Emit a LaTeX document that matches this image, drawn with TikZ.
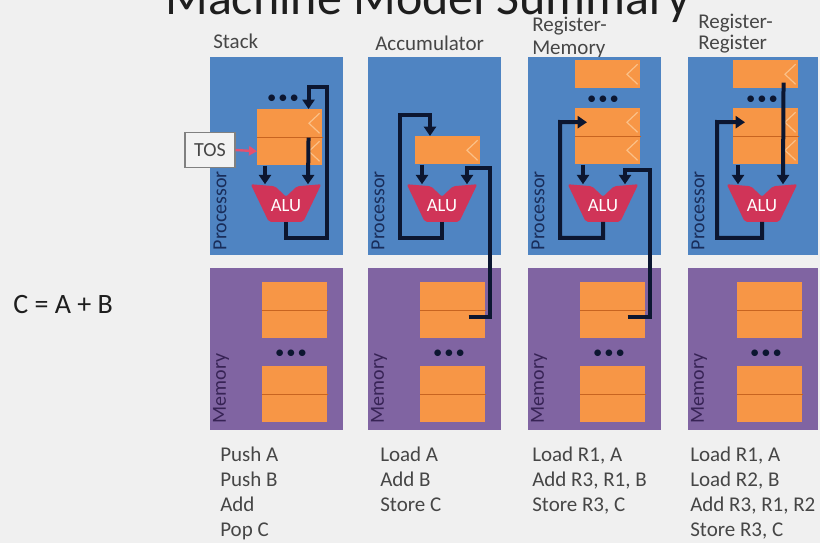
\documentclass[tikz,border=0pt]{standalone}
\usepackage{fontspec}
\setmainfont{Carlito}
\usetikzlibrary{calc,arrows.meta}

\definecolor{bgcol}{RGB}{240,240,240}
\definecolor{procblue}{RGB}{79,132,194}
\definecolor{mempurple}{RGB}{128,100,162}
\definecolor{regorange}{RGB}{247,150,70}
\definecolor{regline}{RGB}{200,100,32}
\definecolor{chevcol}{RGB}{251,192,135}
\definecolor{alured}{RGB}{208,52,88}
\definecolor{wirecol}{RGB}{12,22,48}
\definecolor{textgray}{RGB}{70,70,70}
\definecolor{titlegray}{RGB}{30,30,30}
\definecolor{procname}{RGB}{25,45,90}
\definecolor{memname}{RGB}{55,35,85}
\definecolor{tospink}{RGB}{228,80,112}

\begin{document}
\begin{tikzpicture}[x=0.75pt,y=-0.75pt,
  proc/.style={fill=procblue,inner sep=0pt,anchor=north west,
    minimum width=99.75pt,minimum height=148.5pt},
  mem/.style={fill=mempurple,inner sep=0pt,anchor=north west,
    minimum width=99.75pt,minimum height=121.5pt},
  cell/.style={fill=regorange,inner sep=0pt,anchor=north west,
    minimum width=48.75pt,minimum height=21pt},
  reg/.style={cell,path picture={\draw[chevcol,line width=0.9pt]
      ($(path picture bounding box.north east)+(-2pt,-3pt)$) --
      ($(path picture bounding box.east)+(-10pt,0pt)$) --
      ($(path picture bounding box.south east)+(-2pt,3pt)$);}},
  divide/.style={regline,line width=0.7pt},
  alu/.style={inner sep=0pt,minimum width=52.5pt,minimum height=27.75pt},
  alutext/.style={inner sep=0pt,text=white,font=\fontsize{14pt}{14pt}\selectfont},
  dots/.style={inner sep=0pt,text=wirecol,font=\fontsize{14pt}{14pt}\selectfont},
  wire/.style={wirecol,line width=3pt},
  arr/.style={-{Triangle[length=7pt,width=9pt]}},
  head/.style={anchor=west,inner sep=0pt,text=textgray,
    font=\fontsize{15.75pt}{15.75pt}\selectfont},
  code/.style={anchor=north west,align=left,inner sep=0pt,text=textgray,
    font=\fontsize{15.75pt}{18.75pt}\selectfont},
  side/.style={rotate=90,anchor=west,inner sep=0pt,
    font=\fontsize{15pt}{15pt}\selectfont}]

  % page and background
  \useasboundingbox (0,0) rectangle (820,543);
  \fill[bgcol] (0,0) rectangle (820,543);

  % title and formula
  \node[anchor=base west,inner sep=0pt,text=titlegray,
    font=\fontsize{37.5pt}{37.5pt}\selectfont] (title) at (165,14)
    {Machine Model Summary};
  \node[anchor=west,inner sep=0pt,text=titlegray,
    font=\fontsize{21pt}{21pt}\selectfont] (formula) at (13,305) {C = A + B};

  % column headers
  \node[head] (hStack) at (213,41) {Stack};
  \node[head] (hAcc) at (375,43) {Accumulator};
  \node[head] (hRMa) at (532,26) {Register-};
  \node[head] (hRMb) at (532,49) {Memory};
  \node[head] (hRRa) at (698,23) {Register-};
  \node[head] (hRRb) at (698,44) {Register};

  % panels
  \node[proc] (procS) at (210,57) {};
  \node[proc] (procA) at (368,57) {};
  \node[proc] (procRM) at (528,57) {};
  \node[proc,minimum width=97.5pt] (procRR) at (688,57) {};
  \node[mem] (memS) at (210,268) {};
  \node[mem] (memA) at (368,268) {};
  \node[mem] (memRM) at (528,268) {};
  \node[mem,minimum width=97.5pt] (memRR) at (688,268) {};

  % side labels
  \node[side,text=procname] (pnS) at ($(procS.south west)+(10,-5)$) {Processor};
  \node[side,text=procname] (pnA) at ($(procA.south west)+(10,-5)$) {Processor};
  \node[side,text=procname] (pnRM) at ($(procRM.south west)+(10,-5)$) {Processor};
  \node[side,text=procname] (pnRR) at ($(procRR.south west)+(10,-5)$) {Processor};
  \node[side,text=memname] (mnS) at ($(memS.south west)+(11,-7)$) {Memory};
  \node[side,text=memname] (mnA) at ($(memA.south west)+(11,-7)$) {Memory};
  \node[side,text=memname] (mnRM) at ($(memRM.south west)+(11,-7)$) {Memory};
  \node[side,text=memname] (mnRR) at ($(memRR.south west)+(11,-7)$) {Memory};

  % registers
  \node[reg] (regS1) at (257,109) {};
  \node[reg] (regS2) at (257,137) {};
  \node[reg] (regA) at (415,136) {};
  \node[reg] (regRM0) at (575,60) {};
  \node[reg] (regRM1) at (575,108) {};
  \node[reg] (regRM2) at (575,136) {};
  \node[reg] (regRR0) at (733,60) {};
  \node[reg] (regRR1) at (733,108) {};
  \node[reg] (regRR2) at (733,136) {};
  \draw[divide] (regS1.south west) -- (regS1.south east);
  \draw[divide] (regRM1.south west) -- (regRM1.south east);
  \draw[divide] (regRR1.south west) -- (regRR1.south east);
  \node[dots] (dotsS) at (283,99) {\textbullet\hspace{1.5pt}\textbullet\hspace{1.5pt}\textbullet};
  \node[dots] (dotsRM) at (603,100) {\textbullet\hspace{1.5pt}\textbullet\hspace{1.5pt}\textbullet};
  \node[dots] (dotsRR) at (762,100) {\textbullet\hspace{1.5pt}\textbullet\hspace{1.5pt}\textbullet};

  % memory words
  \node[cell] (memS1) at (262,282) {};
  \node[cell] (memS2) at (262,310) {};
  \node[cell] (memS3) at (262,366) {};
  \node[cell] (memS4) at (262,394) {};
  \node[cell] (memA1) at (420,282) {};
  \node[cell] (memA2) at (420,310) {};
  \node[cell] (memA3) at (420,366) {};
  \node[cell] (memA4) at (420,394) {};
  \node[cell] (memRM1) at (580,282) {};
  \node[cell] (memRM2) at (580,310) {};
  \node[cell] (memRM3) at (580,366) {};
  \node[cell] (memRM4) at (580,394) {};
  \node[cell] (memRR1) at (737,282) {};
  \node[cell] (memRR2) at (737,310) {};
  \node[cell] (memRR3) at (737,366) {};
  \node[cell] (memRR4) at (737,394) {};
  \draw[divide] (memS1.south west) -- (memS1.south east);
  \draw[divide] (memS3.south west) -- (memS3.south east);
  \draw[divide] (memA1.south west) -- (memA1.south east);
  \draw[divide] (memA3.south west) -- (memA3.south east);
  \draw[divide] (memRM1.south west) -- (memRM1.south east);
  \draw[divide] (memRM3.south west) -- (memRM3.south east);
  \draw[divide] (memRR1.south west) -- (memRR1.south east);
  \draw[divide] (memRR3.south west) -- (memRR3.south east);
  \node[dots] (mdotsS) at (291,354) {\textbullet\hspace{1.5pt}\textbullet\hspace{1.5pt}\textbullet};
  \node[dots] (mdotsA) at (449,354) {\textbullet\hspace{1.5pt}\textbullet\hspace{1.5pt}\textbullet};
  \node[dots] (mdotsRM) at (609,354) {\textbullet\hspace{1.5pt}\textbullet\hspace{1.5pt}\textbullet};
  \node[dots] (mdotsRR) at (766,354) {\textbullet\hspace{1.5pt}\textbullet\hspace{1.5pt}\textbullet};

  % ALUs
  \node[alu] (aluS) at (286,203) {};
  \node[alu] (aluA) at (442,203) {};
  \node[alu] (aluRM) at (603,203) {};
  \node[alu] (aluRR) at (762,203) {};
  \foreach \a in {aluS,aluA,aluRM,aluRR}{
    \fill[alured,rounded corners=1.5pt] (\a.north west) -- ($(\a.north)+(-11,2)$)
      -- ($(\a.north)+(0,12.5)$) -- ($(\a.north)+(11,2)$) -- (\a.north east)
      -- ($(\a.south east)+(-18,0)$) -- ($(\a.south west)+(18,0)$) -- cycle;
    \node[alutext] (\a-t) at ($(\a)+(0,3)$) {ALU};
  }

  % top of stack
  \node[draw=gray,line width=0.8pt,fill=white!95!black,inner sep=0pt,
    minimum width=37.5pt,minimum height=26.25pt,text=textgray,
    font=\fontsize{15pt}{15pt}\selectfont] (tosS) at (210,150) {TOS};
  \draw[tospink,line width=1.8pt,-{Triangle[length=6pt,width=7pt]}]
    (tosS.east) -- (regS2.west);

  % stack wiring
  \coordinate (loopS) at (327,87);
  \draw[wire,arr] ($(regS2.south west)+(8,0)$) -- ($(aluS.north)+(-21,0)$);
  \draw[wire,arr] ($(regS1.south east)+(-14,0)$) -- ($(aluS.north)+(22,0)$);
  \draw[wire,arr] (aluS.south) -- ++(0,16) -| (loopS) -| ($(regS1.north east)+(-14,0)$);

  % accumulator wiring
  \coordinate (loopA) at (400,115);
  \coordinate (busA) at (490,168);
  \draw[wire,arr] ($(regA.south west)+(7,0)$) -- ($(aluA.north)+(-20,0)$);
  \draw[wire,arr] ($(memA2.north east)+(-17,7)$) -| (busA) -| ($(aluA.north)+(25,0)$);
  \draw[wire,arr] (aluA.south) -- ++(0,16) -| (loopA) -| ($(regA.north west)+(15,0)$);

  % register-memory wiring
  \coordinate (loopRM) at (560,122);
  \coordinate (busRM) at (650,170);
  \draw[wire,arr] ($(regRM2.south west)+(8,0)$) -- ($(aluRM.north)+(-20,0)$);
  \draw[wire,arr] ($(memRM2.north east)+(-18,7)$) -| (busRM) -| ($(aluRM.north)+(22,0)$);
  \draw[wire,arr] (aluRM.south) -- ++(0,16) -| (loopRM) -- ($(regRM1.west)+(12,0)$);

  % register-register wiring
  \coordinate (loopRR) at (717,122);
  \draw[wire,arr] ($(regRR2.south west)+(5,0)$) -- ($(aluRR.north)+(-24,0)$);
  \draw[wire,arr] ($(regRR0.south east)+(-15,-6)$) -- ($(aluRR.north)+(21,0)$);
  \draw[wire,arr] (aluRR.south) -- ++(0,16) -| (loopRR) -- ($(regRR1.west)+(12,0)$);

  % instruction sequences
  \node[code] (codeS) at (220,447) {Push A\\Push B\\Add\\Pop C};
  \node[code] (codeA) at (380,447) {Load A\\Add B\\Store C};
  \node[code] (codeRM) at (532,447) {Load R1, A\\Add R3, R1, B\\Store R3, C};
  \node[code] (codeRR) at (690,447) {Load R1, A\\Load R2, B\\Add R3, R1, R2\\Store R3, C};
\end{tikzpicture}
\end{document}
